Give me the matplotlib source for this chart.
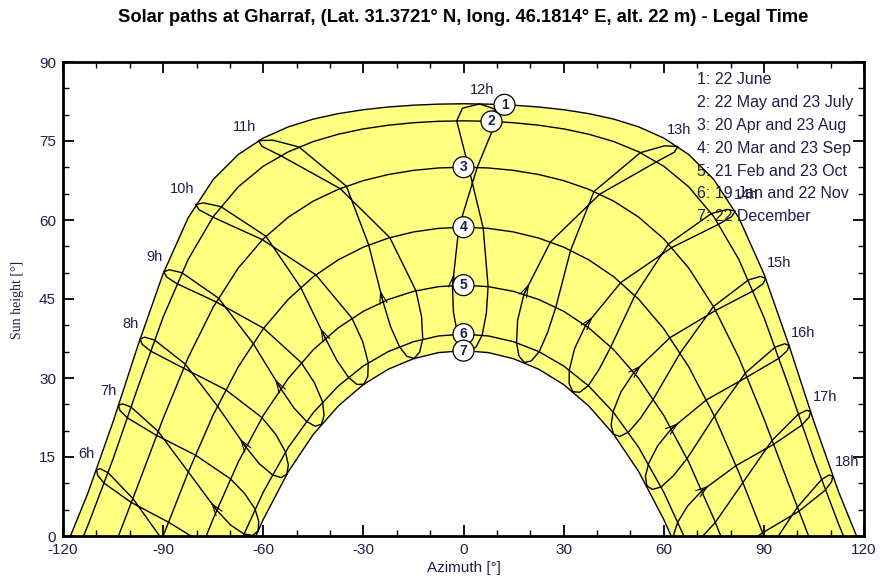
import numpy as np
import matplotlib.pyplot as plt

plt.rcParams['font.family'] = ['Liberation Sans', 'DejaVu Sans']
plt.rcParams['axes.unicode_minus'] = False

title = "Solar paths at Gharraf, (Lat. 31.3721° N, long. 46.1814° E, alt. 22 m) - Legal Time"

# day paths, afternoon half only (azimuth >= 0), the morning half is the mirror image
path_az = [0, 7.5, 15, 22.5, 30, 37.5, 45, 52.5, 60, 67.5, 75, 82.5, 90, 97.5, 105, 112.5]
path_alt_1 = [82.07, 82.00, 81.80, 81.46, 80.94, 80.20, 79.16, 77.68, 75.56, 72.43, 67.69, 60.42, 49.81, 36.26, 21.69, 8.21]
path_alt_2 = [78.83, 78.74, 78.47, 78.00, 77.30, 76.29, 74.90, 72.94, 70.21, 66.29, 60.63, 52.51, 41.55, 28.35, 14.63, 2.07]
path_alt_3 = [70.03, 69.88, 69.42, 68.64, 67.48, 65.83, 63.59, 60.54, 56.42, 50.87, 43.45, 33.87, 22.31, 9.71]
path_alt_4 = [58.63, 58.41, 57.73, 56.57, 54.85, 52.45, 49.23, 44.95, 39.35, 32.11, 23.00, 12.08]
path_alt_5 = [47.63, 47.34, 46.45, 44.92, 42.67, 39.54, 35.38, 29.92, 22.89, 14.02, 3.28]
path_alt_6 = [38.33, 37.98, 36.89, 35.03, 32.29, 28.49, 23.43, 16.81, 8.33]
path_alt_7 = [35.19, 34.82, 33.66, 31.68, 28.76, 24.70, 19.30, 12.22, 3.14]
sunset_az = [117.77, 113.86, 103.39, 90.0, 77.09, 66.02, 62.23]

legend_lines = ["1: 22 June", "2: 22 May and 23 July", "3: 20 Apr and 23 Aug",
                "4: 20 Mar and 23 Sep", "5: 21 Feb and 23 Oct", "6: 19 Jan and 22 Nov",
                "7: 22 December"]
number_az = [12.3, 8.4, 0, 0, 0, 0, 0]

# sun position at each legal hour 6h..18h through the year
hours = [6, 7, 8, 9, 10, 11, 12, 13, 14, 15, 16, 17, 18]
az_dec22 = [-68.95, -61.56, -52.94, -42.55, -29.86, -14.80, 1.81, 18.21, 32.80, 44.96, 54.93, 63.23, 70.42]
alt_dec22 = [-10.67, 0.96, 11.74, 21.23, 28.82, 33.71, 35.16, 32.93, 27.39, 19.33, 9.52, -1.47, -13.24]
az_jan05 = [-70.50, -63.17, -54.68, -44.46, -31.95, -16.94, -0.17, 16.62, 31.66, 44.23, 54.50, 63.02, 70.37]
alt_jan05 = [-11.66, 0.11, 11.08, 20.84, 28.78, 34.11, 36.02, 34.18, 28.92, 21.02, 11.29, 0.34, -11.42]
az_jan19 = [-73.17, -65.77, -57.28, -47.07, -34.48, -19.18, -1.76, 15.89, 31.70, 44.81, 55.44, 64.21, 71.77]
alt_jan19 = [-11.61, 0.38, 11.64, 21.77, 30.16, 35.96, 38.31, 36.72, 31.53, 23.57, 13.73, 2.66, -9.21]
az_feb05 = [-77.29, -69.71, -61.13, -50.81, -37.91, -21.82, -3.02, 16.22, 33.29, 47.13, 58.16, 67.19, 75.01]
alt_feb05 = [-10.23, 2.04, 13.69, 24.31, 33.29, 39.69, 42.47, 40.99, 35.59, 27.30, 17.11, 5.73, -6.38]
az_feb21 = [-81.72, -73.95, -65.24, -54.74, -41.37, -24.12, -3.30, 18.11, 36.59, 51.06, 62.30, 71.44, 79.42]
alt_feb21 = [-7.62, 4.90, 16.90, 27.99, 37.54, 44.51, 47.57, 45.90, 39.98, 31.08, 20.37, 8.60, -3.79]
az_mar20 = [-90.37, -82.45, -73.73, -63.07, -48.80, -28.41, -1.38, 26.06, 47.13, 61.91, 72.81, 81.67, 89.63]
alt_mar20 = [-0.61, 12.16, 24.68, 36.59, 47.22, 55.27, 58.63, 55.85, 48.13, 37.68, 25.86, 13.37, 0.61]
az_apr20 = [-99.05, -91.49, -83.36, -73.43, -59.20, -35.09, 4.10, 40.84, 62.45, 75.55, 85.00, 92.94, 100.49]
alt_apr20 = [7.11, 19.85, 32.64, 45.18, 56.92, 66.42, 69.98, 64.91, 54.79, 42.83, 30.21, 17.41, 4.70]
az_may22 = [-106.48, -99.60, -92.57, -84.40, -72.74, -49.28, 9.75, 57.91, 76.51, 86.81, 94.53, 101.44, 108.41]
alt_may22 = [12.01, 24.48, 37.21, 50.00, 62.55, 73.86, 78.68, 71.07, 59.21, 46.55, 33.75, 21.08, 8.71]
az_jun06 = [-108.86, -102.20, -95.57, -88.13, -77.89, -57.05, 9.19, 63.20, 80.41, 89.78, 96.95, 103.54, 110.28]
alt_jun06 = [12.78, 25.11, 37.75, 50.55, 63.25, 75.15, 81.12, 72.89, 60.68, 47.93, 35.16, 22.56, 10.31]
az_jun22 = [-109.98, -103.38, -96.90, -89.78, -80.24, -61.40, 4.84, 64.21, 81.39, 90.54, 97.55, 104.01, 110.65]
alt_jun22 = [12.54, 24.80, 37.40, 50.18, 62.93, 75.07, 82.04, 73.96, 61.70, 48.93, 36.16, 23.59, 11.37]
az_jul07 = [-109.59, -102.89, -96.29, -88.99, -79.22, -60.42, -0.30, 60.23, 79.15, 88.94, 96.24, 102.85, 109.54]
alt_jul07 = [11.50, 23.79, 36.41, 49.19, 61.94, 74.00, 81.23, 74.08, 62.01, 49.28, 36.50, 23.88, 11.58]
az_jul23 = [-107.64, -100.71, -93.76, -85.88, -75.09, -54.77, -2.03, 53.00, 74.31, 85.38, 93.35, 100.33, 107.24]
alt_jul23 = [10.01, 22.43, 35.12, 47.92, 60.54, 72.21, 78.82, 72.79, 61.24, 48.63, 35.84, 23.13, 10.70]
az_aug23 = [-99.50, -91.95, -83.88, -74.11, -60.25, -36.96, 1.52, 39.10, 61.46, 74.90, 84.49, 92.49, 100.04]
alt_aug23 = [6.35, 19.09, 31.87, 44.44, 56.26, 65.97, 70.01, 65.41, 55.47, 43.57, 30.97, 18.18, 5.46]
az_sep23 = [-88.39, -80.35, -71.26, -59.89, -44.22, -22.07, 5.90, 32.10, 51.36, 64.95, 75.19, 83.73, 91.61]
alt_sep23 = [2.63, 15.37, 27.78, 39.44, 49.58, 56.65, 58.49, 54.26, 45.68, 34.78, 22.74, 10.16, -2.63]
az_oct23 = [-77.98, -69.84, -60.38, -48.62, -33.43, -14.24, 7.37, 27.67, 44.14, 56.89, 66.98, 75.45, 83.14]
alt_oct23 = [-1.44, 10.86, 22.48, 32.92, 41.36, 46.57, 47.35, 43.46, 35.91, 26.01, 14.70, 2.58, -9.99]
az_nov06 = [-73.54, -65.54, -56.18, -44.67, -30.20, -12.56, 6.84, 25.23, 40.69, 53.01, 62.92, 71.25, 78.72]
alt_nov06 = [-3.97, 8.03, 19.22, 29.10, 36.91, 41.61, 42.26, 38.69, 31.70, 22.34, 11.47, -0.32, -12.68]
az_nov22 = [-70.23, -62.45, -53.34, -42.23, -28.54, -12.21, 5.58, 22.68, 37.41, 49.43, 59.22, 67.42, 74.66]
alt_nov22 = [-6.62, 5.11, 15.96, 25.46, 32.90, 37.39, 38.13, 34.99, 28.55, 19.72, 9.31, -2.13, -14.24]
az_dec07 = [-68.88, -61.33, -52.48, -41.78, -28.68, -13.16, 3.80, 20.31, 34.81, 46.80, 56.61, 64.81, 71.96]
alt_dec07 = [-8.88, 2.74, 13.47, 22.87, 30.28, 34.88, 35.93, 33.24, 27.29, 18.90, 8.84, -2.33, -14.23]

# offsets (pixels) of the hour labels from the 22 June point
label_dx = [-10, -10, -10, -9, -14, -14, 2, 1, 11, 13, 14, 14, 14]
label_dy = [16, 14, 15, 15, 16, 14, 14, 16, 16, 15, 13, 15, 14]

text_col = '#1e1e46'


def full_path(alts, az_set):
    az = np.array(path_az[:len(alts)] + [az_set])
    alt = np.array(alts + [0.0])
    return np.concatenate([-az[::-1], az[1:]]), np.concatenate([alt[::-1], alt[1:]])


paths = [full_path(a, s) for a, s in zip(
    [path_alt_1, path_alt_2, path_alt_3, path_alt_4, path_alt_5, path_alt_6, path_alt_7], sunset_az)]

year_az = np.array([az_dec22, az_jan05, az_jan19, az_feb05, az_feb21, az_mar20, az_apr20,
                    az_may22, az_jun06, az_jun22, az_jul07, az_jul23, az_aug23, az_sep23,
                    az_oct23, az_nov06, az_nov22, az_dec07])
year_alt = np.array([alt_dec22, alt_jan05, alt_jan19, alt_feb05, alt_feb21, alt_mar20, alt_apr20,
                     alt_may22, alt_jun06, alt_jun22, alt_jul07, alt_jul23, alt_aug23, alt_sep23,
                     alt_oct23, alt_nov06, alt_nov22, alt_dec07])

fig = plt.figure(figsize=(8.8, 5.88), dpi=100)
ax = fig.add_axes([63 / 880, 52 / 588, 801 / 880, 474 / 588])

# yellow band between 22 June and 22 December
x1, y1 = paths[0]
x7, y7 = paths[6]
ax.fill(np.concatenate([x1, x7[::-1]]), np.concatenate([y1, y7[::-1]]),
        color='#ffff80', zorder=0, lw=0)

for x, y in paths:
    ax.plot(x, y, color='black', lw=1.0, zorder=2)

# hour loops (analemmas)
for j, h in enumerate(hours):
    lx = np.append(year_az[:, j], year_az[0, j])
    ly = np.append(year_alt[:, j], year_alt[0, j])
    ax.plot(lx, ly, color='black', lw=1.0, zorder=2)
    if 7 <= h <= 17:
        # direction marker just after 21 Feb
        p0 = np.array([az_feb21[j], alt_feb21[j]])
        p1 = np.array([az_mar20[j], alt_mar20[j]])
        ax.annotate('', xy=p0 + 0.2 * (p1 - p0), xytext=p0,
                    arrowprops=dict(arrowstyle='->,head_length=0.7,head_width=0.22',
                                    lw=0.8, color='black', mutation_scale=12,
                                    shrinkA=0, shrinkB=0), zorder=3)
    ax.annotate(f'{h}h', xy=(az_jun22[j], alt_jun22[j]),
                xytext=(label_dx[j], label_dy[j]), textcoords='offset pixels',
                ha='center', va='center', fontsize=10.5, color=text_col, zorder=4)

# numbered markers on the day paths
for k, (x, y) in enumerate(paths):
    yy = np.interp(number_az[k], x, y)
    ax.text(number_az[k], yy, str(k + 1), ha='center', va='center', fontsize=10,
            fontweight='bold', color=text_col, zorder=5,
            bbox=dict(boxstyle='circle,pad=0.25', fc='white', ec='black', lw=0.9))

for i, line in enumerate(legend_lines):
    fig.text(697 / 880, 1 - (80 + i * 22.8) / 588, line, ha='left', va='center',
             fontsize=11.5, color=text_col, zorder=6)

ax.set_xlim(-120, 120)
ax.set_ylim(0, 90)
ax.set_xticks(np.arange(-120, 121, 30))
ax.set_xticks(np.arange(-120, 121, 10), minor=True)
ax.set_yticks(np.arange(0, 91, 15))
ax.set_yticks(np.arange(0, 91, 5), minor=True)
ax.tick_params(which='both', direction='in', top=True, right=True, colors='black',
               labelcolor=text_col, labelsize=11)
ax.tick_params(which='major', length=8, width=1.3, pad=5)
ax.tick_params(which='minor', length=4, width=1.0)
for s in ax.spines.values():
    s.set_linewidth(2)

ax.set_xlabel('Azimuth [°]', fontsize=11, color=text_col, labelpad=3)
fig.text(18 / 880, 1 - 300 / 588, 'Sun height [°]', rotation=90, ha='center', va='center',
         fontsize=10, family='Liberation Serif', color=text_col)
# title is centred over the plot frame, not the whole figure
fig.text(463.5 / 880, 1 - 18 / 588, title, ha='center', va='center', fontsize=13.2,
         fontweight='bold', color='black')

fig.savefig('out.png', dpi=100)
